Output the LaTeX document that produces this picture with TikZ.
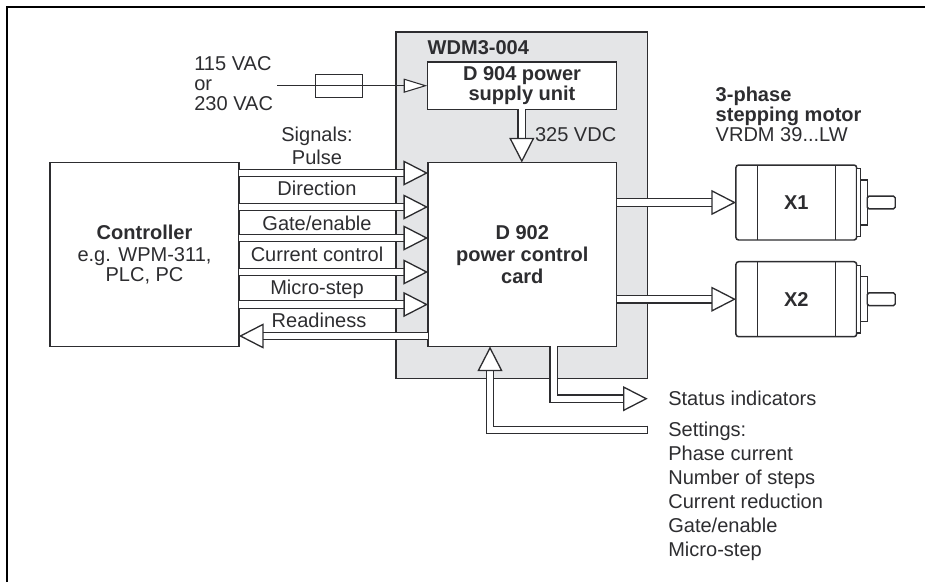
\documentclass[tikz,border=0pt]{standalone}
\usepackage{fontspec}
\setsansfont{Liberation Sans}
\usetikzlibrary{
  arrows.meta,
  positioning
}
\definecolor{ink}{RGB}{45,45,48}
\definecolor{housing}{RGB}{228,229,231}

\begin{document}
\begin{tikzpicture}[
  x=0.02cm, y=-0.02cm,
  every node/.style={font=\sffamily\fontsize{11.4}{11.4}\selectfont, text=ink, inner sep=0pt, outer sep=0pt},
  unitbox/.style={draw=ink, line width=0.85pt, fill=white, align=center},
  motorbox/.style={draw=ink, line width=0.85pt, fill=white, rounded corners=1.5pt,
               minimum width=2.414cm, minimum height=1.5cm},
  flange/.style={draw=ink, line width=0.8pt, fill=white, minimum width=0.072cm, minimum height=1.354cm},
  hub/.style={draw=ink, line width=0.8pt, fill=white, minimum width=0.14cm, minimum height=0.9cm},
  shaft/.style={draw=ink, line width=0.8pt, fill=white, rounded corners=1pt,
               minimum width=0.56cm, minimum height=0.254cm},
  hollow/.style={draw=ink, line width=0.75pt, double=white, double distance=3.6pt,
               -{Triangle[open, fill=white, length=14pt, width=14.2pt, line width=0.75pt]}},
  feed/.style={draw=ink, line width=0.6pt,
               -{Triangle[open, fill=white, length=13.4pt, width=8pt, line width=0.6pt]}}
]
\useasboundingbox (0,0) rectangle (925,582);

% outer frame, open to the right and below
\draw[black, line width=1.2pt] (7,582) -- (7,7) -- (925,7);

% drive housing and its cards
\node[draw=ink, line width=0.85pt, fill=housing, minimum width=5.03cm, minimum height=6.93cm] (drive) at (521.7, 205.3) {};
\node[font=\sffamily\bfseries\fontsize{11.4}{11.4}\selectfont, anchor=base west] (drivename) at (427.7, 54.3) {WDM3-004};
\node[unitbox, minimum width=3.79cm, minimum height=0.946cm] (supply) at (522, 85.7)
  {\bfseries D 904 power\\\bfseries supply unit};
\node[unitbox, minimum width=3.77cm, minimum height=3.68cm] (card) at (522.3, 254.5)
  {\bfseries D 902\\[1.2pt]\bfseries power control\\[1.2pt]\bfseries card};
\node[unitbox, minimum width=3.78cm, minimum height=3.68cm] (ctrl) at (144.5, 254.5)
  {\bfseries Controller\\[1.2pt]e.g. WPM-311,\\PLC, PC};

% mains feed
\node[anchor=north west, align=left] (mainslabel) at (194.3, 56.4) {115 VAC\\or\\230 VAC};
\coordinate (mains) at (277, 85.7);
\node[draw=ink, line width=0.6pt, minimum width=0.934cm, minimum height=0.466cm] (fuse) at (339.3, 85.7) {};
\draw[feed] (mains) -- (supply.west);

% dc link
\draw[hollow] (supply.south -| 521.8,0) -- (card.north -| 521.8,0);
\node[anchor=base west] (dclabel) at (535, 141.7) {325 VDC};

% signals
\node[anchor=base] (signalslabel) at (317, 141.7) {Signals:};
\node[anchor=base] (pulselabel) at (317, 164) {Pulse};
\node[anchor=base] (dirlabel) at (317, 195.3) {Direction};
\node[anchor=base] (gatelabel) at (317, 230) {Gate/enable};
\node[anchor=base] (currentlabel) at (317, 261.7) {Current control};
\node[anchor=base] (microlabel) at (317, 294) {Micro-step};
\node[anchor=base] (readylabel) at (319, 327.3) {Readiness};

\draw[hollow] (ctrl.east |- 0,173) -- (card.west |- 0,173);
\draw[hollow] (ctrl.east |- 0,207) -- (card.west |- 0,207);
\draw[hollow] (ctrl.east |- 0,238) -- (card.west |- 0,238);
\draw[hollow] (ctrl.east |- 0,272) -- (card.west |- 0,272);
\draw[hollow] (ctrl.east |- 0,304.5) -- (card.west |- 0,304.5);
\draw[hollow] (card.west |- 0,336) -- (ctrl.east |- 0,336);

% motors
\node[font=\sffamily\fontsize{11.4}{11.4}\selectfont, anchor=north west, align=left] (motorlabel) at (715.7, 86.7)
  {{\bfseries 3-phase}\\{\bfseries stepping motor}\\VRDM 39...LW};

\node[motorbox, font=\sffamily\bfseries\fontsize{11.4}{11.4}\selectfont] (m1) at (796.3, 202.5) {X1};
\node[flange, right=0pt of m1] (f1) {};
\node[hub, right=0pt of f1] (h1) {};
\node[shaft, right=0pt of h1] (s1) {};
\draw[ink, line width=0.6pt] (m1.north west) ++(21.3,0) -- ++(0,75);
\draw[ink, line width=0.6pt] (m1.north east) ++(-21.3,0) -- ++(0,75);

\node[motorbox, font=\sffamily\bfseries\fontsize{11.4}{11.4}\selectfont] (m2) at (796.3, 299.2) {X2};
\node[flange, right=0pt of m2] (f2) {};
\node[hub, right=0pt of f2] (h2) {};
\node[shaft, right=0pt of h2] (s2) {};
\draw[ink, line width=0.6pt] (m2.north west) ++(21.3,0) -- ++(0,75);
\draw[ink, line width=0.6pt] (m2.north east) ++(-21.3,0) -- ++(0,75);

\draw[hollow] (card.east |- m1) -- (m1);
\draw[hollow] (card.east |- m2) -- (m2);

% status and settings
\coordinate (statusend) at (647.7, 398.7);
\coordinate (settingsend) at (647.7, 430);
\draw[hollow] (card.south -| 553.7,0) |- (statusend);
\draw[hollow] (settingsend) -| (card.south -| 490,0);
\draw[ink, line width=0.75pt] (settingsend) ++(0,-4.4) -- ++(0,8.8);

\node[anchor=base west] (statuslabel) at (668.3, 405) {Status indicators};
\node[font=\sffamily\fontsize{11.4}{13.66}\selectfont, anchor=north west, align=left] (settingslabel) at (668.3, 422.4)
  {Settings:\\Phase current\\Number of steps\\Current reduction\\Gate/enable\\Micro-step};

\end{tikzpicture}
\end{document}
